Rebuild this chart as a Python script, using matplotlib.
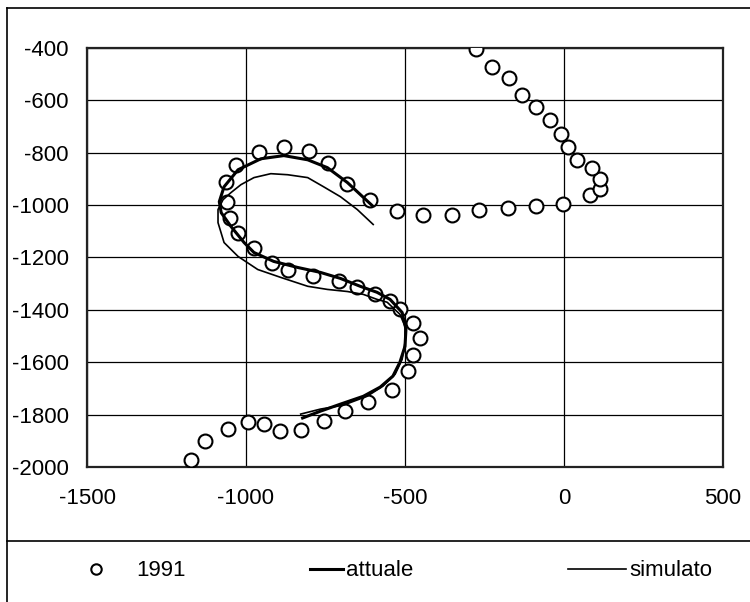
import matplotlib
matplotlib.use("Agg")
import matplotlib.pyplot as plt
from matplotlib.lines import Line2D

plt.rcParams['font.family'] = ['Liberation Sans', 'DejaVu Sans']
plt.rcParams['axes.unicode_minus'] = False

# 1991 survey points (x, y)
pts_x = [-1172, -1128, -1056, -994, -944, -894, -828, -756, -688, -616, -541,
         -491, -475, -453, -475, -516, -547, -594, -650, -709, -788, -869, -919,
         -975, -1025, -1050, -1059, -1063, -1031, -959, -881, -803, -741, -681, -609,
         -525, -444, -353, -266, -175, -88, -3, 81, 113, 113, 88, 41,
         12, -9, -44, -88, -131, -172, -225, -278]
pts_y = [-1973, -1901, -1855, -1829, -1836, -1863, -1859, -1825, -1787, -1752, -1707,
         -1634, -1573, -1509, -1451, -1398, -1368, -1341, -1314, -1291, -1269, -1246, -1223,
         -1162, -1105, -1048, -987, -910, -846, -796, -777, -792, -838, -918, -979,
         -1021, -1036, -1036, -1017, -1010, -1002, -994, -960, -937, -899, -857, -827,
         -777, -728, -674, -625, -579, -514, -472, -404]

# attuale (current)
att_x = [-603, -681, -744, -806, -881, -953, -1025, -1069, -1084, -1078, -1047,
         -1006, -975, -913, -838, -766, -703, -641, -588, -547, -509, -497, -500,
         -516, -538, -578, -631, -703, -766, -822]
att_y = [-1002, -914, -857, -827, -811, -823, -865, -930, -987, -1029, -1082,
         -1143, -1181, -1215, -1238, -1257, -1280, -1310, -1333, -1360, -1410, -1474, -1539,
         -1600, -1653, -1695, -1730, -1760, -1787, -1813]

# simulato (simulated)
sim_x = [-600, -650, -703, -756, -806, -869, -922, -975, -1016, -1047, -1072,
         -1088, -1088, -1069, -1025, -963, -891, -806, -744, -681, -631, -588, -556,
         -516, -500, -500, -509, -531, -569, -619, -694, -766, -828]
sim_y = [-1074, -1017, -968, -930, -895, -884, -880, -895, -922, -952, -979,
         -1017, -1067, -1143, -1196, -1246, -1276, -1310, -1322, -1330, -1341, -1360, -1371,
         -1417, -1463, -1524, -1589, -1646, -1691, -1730, -1764, -1779, -1798]

xticks = [-1500, -1000, -500, 0, 500]
yticks = [-400, -600, -800, -1000, -1200, -1400, -1600, -1800, -2000]

fig = plt.figure(figsize=(7.5, 6.02), dpi=100)
ax = fig.add_axes([0.116, 0.2243, 0.848, 0.696])

pts, = ax.plot(pts_x, pts_y, 'o', mfc='white', mec='black', ms=10, mew=1.5, zorder=3)
att, = ax.plot(att_x, att_y, '-', color='black', lw=2.2, zorder=4)
sim, = ax.plot(sim_x, sim_y, '-', color='black', lw=1.2, zorder=4)

ax.set_xlim(-1500, 500)
ax.set_ylim(-2000, -400)
ax.set_xticks(xticks)
ax.set_yticks(yticks)
ax.grid(True, color='black', lw=0.9)
ax.set_axisbelow(True)
ax.tick_params(length=0, labelsize=16)
ax.tick_params(axis='y', pad=13)
ax.tick_params(axis='x', pad=15)
for s in ax.spines.values():
    s.set_linewidth(1.6)
    s.set_color('#222222')

# outer frame lines
fig.add_artist(Line2D([0.0093, 0.0093], [0, 0.987], color='black', lw=1.2))
fig.add_artist(Line2D([0.0093, 1.0], [0.987, 0.987], color='black', lw=1.2))
fig.add_artist(Line2D([0.0093, 1.0], [0.1013, 0.1013], color='black', lw=1.2))

ly = 1 - 571 / 602
common = dict(loc='center left', frameon=False, fontsize=16, borderpad=0, borderaxespad=0)
fig.legend([pts], ['1991'], bbox_to_anchor=(85 / 750, ly), handlelength=1.0,
           handletextpad=1.3, markerscale=0.75, **common)
fig.legend([att], ['attuale'], bbox_to_anchor=(310 / 750, ly), handlelength=1.5,
           handletextpad=0.1, **common)
fig.legend([sim], ['simulato'], bbox_to_anchor=(568 / 750, ly), handlelength=2.6,
           handletextpad=0.15, **common)

fig.savefig('out.png', dpi=100)
